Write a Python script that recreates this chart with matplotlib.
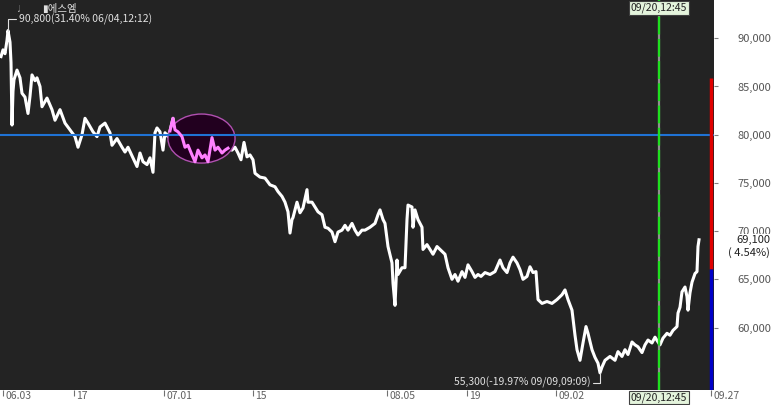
import matplotlib.pyplot as plt
from matplotlib.patches import Ellipse
import numpy as np

plt.rcParams['font.family'] = ['Noto Sans CJK KR', 'DejaVu Sans']

# data (bar index ~ intraday bars)
stock_name = "에스엠"
bar = [1, 3, 5, 7, 8, 10, 11, 12, 13, 14, 17, 20, 22, 25, 28, 30, 32, 35, 37, 40,
       42, 47, 52, 55, 60, 65, 70, 75, 78, 82, 85, 88, 93, 97, 100, 105, 110, 112, 117, 122,
       125, 128, 133, 137, 140, 143, 147, 150, 153, 155, 157, 160, 163, 165, 168, 170, 173, 175, 178, 182,
       185, 188, 192, 195, 198, 202, 205, 208, 212, 215, 218, 222, 225, 228, 232, 235, 238, 241, 244, 247,
       250, 253, 255, 260, 265, 270, 275, 278, 282, 285, 288, 290, 292, 293, 297, 300, 303, 307, 308, 312,
       315, 318, 322, 325, 328, 332, 335, 338, 342, 345, 348, 352, 355, 358, 362, 365, 370, 375, 378, 380,
       383, 385, 388, 392, 393, 395, 397, 398, 402, 405, 407, 408, 412, 413, 415, 418, 422, 423, 427, 430,
       433, 437, 440, 445, 448, 452, 455, 458, 462, 465, 468, 472, 475, 478, 481, 485, 490, 495, 500, 503,
       507, 510, 513, 517, 520, 523, 527, 530, 533, 536, 538, 542, 547, 552, 557, 562, 565, 568, 572, 575,
       577, 580, 583, 586, 588, 592, 595, 598, 600, 602, 605, 610, 615, 618, 622, 625, 628, 632, 635, 638,
       642, 645, 648, 652, 655, 658, 660, 663, 667, 670, 673, 677, 678, 680, 682, 685, 687, 688, 690, 692,
       695, 697, 698, 699]
price = [88100, 88800, 88400, 89800, 90800, 89600, 87500, 81000, 84500, 85700, 86700, 85900, 84300, 83900, 82200, 84000, 86200, 85600, 85900, 85000,
         82900, 83800, 82600, 81500, 82600, 81200, 80500, 79800, 78700, 80000, 81700, 81200, 80300, 79800, 80800, 81200, 80200, 78900, 79600, 78700,
         78200, 78700, 77600, 76700, 78100, 77200, 76900, 77600, 76100, 80200, 80700, 80300, 78400, 80200, 79800, 80400, 81700, 80500, 80300, 79800,
         78700, 78900, 77900, 77200, 78400, 77600, 77900, 77200, 79700, 78400, 78700, 78100, 78400, 78600, 78400, 78700, 78100, 77400, 79200, 77700,
         77900, 77400, 76000, 75600, 75500, 74800, 74600, 74100, 73600, 73000, 72000, 69800, 71200, 71400, 73000, 71900, 72400, 74300, 73000, 73000,
         72500, 72000, 71700, 70400, 70300, 69900, 68900, 69900, 70100, 70600, 70100, 70800, 70100, 69600, 70100, 70100, 70400, 70800, 71700, 72200,
         71200, 70800, 68400, 66700, 64600, 62300, 67000, 65500, 66200, 66200, 71200, 72700, 72500, 70400, 72200, 71200, 70400, 68100, 68600, 68100,
         67600, 68400, 68100, 67600, 66200, 65000, 65500, 64800, 65800, 65200, 66500, 65800, 65200, 65500, 65300, 65700, 65500, 65800, 67000, 66200,
         65700, 66700, 67300, 66700, 66000, 65000, 65300, 66300, 65700, 65800, 62900, 62500, 62700, 62500, 62900, 63400, 63900, 62900, 61800, 59200,
         57700, 56600, 58400, 60100, 59400, 57700, 56900, 56300, 55300, 55900, 56600, 57000, 56600, 57500, 57000, 57700, 57200, 58500, 58200, 58000,
         57400, 58200, 58700, 58400, 59000, 58500, 58200, 58900, 59400, 59200, 59700, 60100, 61500, 62100, 63700, 64200, 63200, 61800, 63600, 64700,
         65600, 65800, 68400, 69100]

x_ticks = [3, 74, 164, 253, 387, 467, 556, 711]
x_labels = ["06.03", "17", "07.01", "15", "08.05", "19", "09.02", "09.27"]
y_ticks = [60000, 65000, 70000, 75000, 80000, 85000, 90000]

ref_level = 80000
change_pct = 4.54
high_text = "90,800(31.40% 06/04,12:12)"
low_text = "55,300(-19.97% 09/09,09:09)"
cursor_bar = 659
cursor_text = "09/20,12:45"
hl_start, hl_end = 169, 230

bar = np.array(bar)
price = np.array(price)

fig = plt.figure(figsize=(7.73, 4.05), dpi=100)
fig.patch.set_facecolor('white')
ax = fig.add_axes([0, 15 / 405, 714 / 773, 390 / 405])
ax.set_facecolor('#232323')
for s in ax.spines.values():
    s.set_visible(False)
ax.set_xlim(0, 714)
ax.set_ylim(53520, 93970)

# main price line
ax.plot(bar, price, color='white', lw=2.2, zorder=2)

# highlighted stretch with ellipse
sel = (bar >= hl_start) & (bar <= hl_end)
cx = (hl_start + hl_end) / 2 + 2
cy = (price[sel].max() + price[sel].min()) / 2 + 150
ell = Ellipse((cx, cy), width=(hl_end - hl_start) * 1.1,
              height=(price[sel].max() - price[sel].min()) * 1.13,
              facecolor='#22001f', edgecolor='#b050b0', lw=1.0, zorder=3)
ax.add_patch(ell)
ax.axhline(ref_level, color='#1f72d4', lw=1.5, zorder=4)
ax.plot(bar[sel], price[sel], color='#ff80ff', lw=2.2, zorder=5)

# cursor line
ax.axvline(cursor_bar, color='#909090', lw=1.6, zorder=6)
ax.axvline(cursor_bar, color='#1ee01e', lw=1.6, ls=(0, (8, 2)), zorder=7)

# limit bar on the right edge
prev_close = price[-1] / (1 + change_pct / 100)
ax.vlines(0.996, prev_close, prev_close * 1.3, color='#e00000', lw=2.5,
          transform=ax.get_yaxis_transform(), zorder=6)
ax.vlines(0.996, 40000, prev_close, color='#0000c8', lw=2.5,
          transform=ax.get_yaxis_transform(), zorder=6)

# y axis on right
ax.yaxis.tick_right()
ax.set_yticks(y_ticks)
ax.set_yticklabels([f"{v:,}" for v in y_ticks])
ax.tick_params(axis='y', colors='#808080', labelcolor='#555555', length=3,
               width=0.8, pad=14, labelsize=8)

# x axis ticks + labels
ax.set_xticks(x_ticks)
ax.set_xticklabels([])
ax.tick_params(axis='x', colors='#707070', length=4, width=0.8)
for xt, lab in zip(x_ticks, x_labels):
    ax.annotate(lab, xy=(xt, 0), xycoords=ax.get_xaxis_transform(),
                xytext=(1.5, -0.5), textcoords='offset points',
                ha='left', va='top', fontsize=7.5, color='#606060')

# high / low annotations
i_hi = np.argmax(price)
i_lo = np.argmin(price)
ax.annotate(high_text, xy=(bar[i_hi], price[i_hi]), xytext=(8, 8),
            textcoords='offset points', ha='left', va='center',
            fontsize=7.5, color='#e0e0e0', zorder=8,
            arrowprops=dict(arrowstyle='-', color='#e0e0e0', lw=0.8,
                            shrinkA=0, shrinkB=0, relpos=(0, 0.5),
                            connectionstyle='angle,angleA=0,angleB=90,rad=0'))
ax.annotate(low_text, xy=(bar[i_lo], price[i_lo]), xytext=(-7, -7),
            textcoords='offset points', ha='right', va='center',
            fontsize=7.5, color='#e0e0e0', zorder=8,
            arrowprops=dict(arrowstyle='-', color='#e0e0e0', lw=0.8,
                            shrinkA=0, shrinkB=0, relpos=(1, 0.5),
                            connectionstyle='angle,angleA=0,angleB=90,rad=0'))

# cursor labels top and bottom
box = dict(boxstyle='square,pad=0.15', fc='#e4f4dc', ec='#404040', lw=0.8)
ax.annotate(cursor_text, xy=(cursor_bar, 1), xycoords=ax.get_xaxis_transform(),
            xytext=(0, -2), textcoords='offset points', ha='center', va='top',
            fontsize=7.5, color='#222222', bbox=box, zorder=9)
ax.annotate(cursor_text, xy=(cursor_bar, 0), xycoords=ax.get_xaxis_transform(),
            xytext=(0, -1.5), textcoords='offset points', ha='center', va='top',
            fontsize=7.5, color='#222222', bbox=box, zorder=9, annotation_clip=False)

# current price label
ax.annotate(f"{price[-1]:,}", xy=(1, price[-1]), xycoords=ax.get_yaxis_transform(),
            xytext=(40.3, 0), textcoords='offset points', ha='right', va='center',
            fontsize=8, color='#202020',
            bbox=dict(boxstyle='square,pad=0.1', fc='white', ec='none'),
            annotation_clip=False, zorder=10)
ax.annotate(f"( {change_pct:.2f}%)", xy=(1, price[-1]), xycoords=ax.get_yaxis_transform(),
            xytext=(40.3, -9.4), textcoords='offset points', ha='right', va='center',
            fontsize=8, color='#202020', annotation_clip=False, zorder=10)

# legend text at top left
fig.text(15 / 773, 1 - 9 / 405, "♩", fontsize=5, color='#c0c0c0', va='center')
fig.text(42 / 773, 1 - 9 / 405, "▮" + stock_name, fontsize=7.5, color='#e0e0e0', va='center')

fig.savefig('out.png', dpi=100)
